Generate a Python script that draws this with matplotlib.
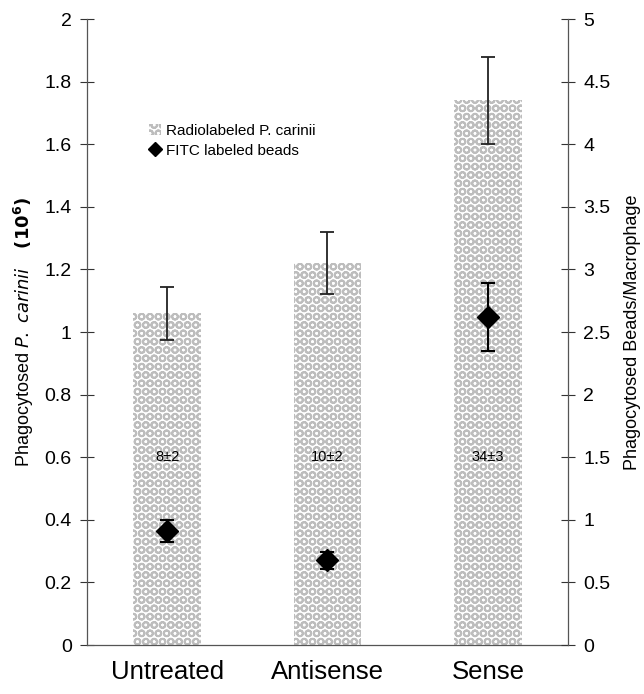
import matplotlib.pyplot as plt
from matplotlib.lines import Line2D
from matplotlib.patches import Patch

plt.rcParams["font.family"] = ["Liberation Sans", "DejaVu Sans"]
plt.rcParams["hatch.linewidth"] = 1.4

# Data
groups = ["Untreated", "Antisense", "Sense"]
carinii = [1.06, 1.22, 1.74]          # left axis, x10^6
carinii_err = [0.085, 0.10, 0.14]
beads = [0.91, 0.675, 2.62]            # right axis, beads / macrophage
beads_err = [0.09, 0.07, 0.27]
bar_notes = ["8\u00b12", "10\u00b12", "34\u00b13"]

fig = plt.figure(figsize=(6.44, 6.94), dpi=100)
ax = fig.add_axes([0.135, 0.0706, 0.747, 0.902])
ax2 = ax.twinx()

x = list(range(len(groups)))

ax.bar(x, carinii, width=0.42, facecolor="white", edgecolor="#bdbdbd",
       hatch="OO", linewidth=0, zorder=1)
ax.errorbar(x, carinii, yerr=carinii_err, fmt="none", ecolor="#222222",
            elinewidth=1.3, capsize=5, capthick=1.3, zorder=3)

for xi, note in zip(x, bar_notes):
    ax.text(xi, 0.6, note, ha="center", va="center", fontsize=10.5,
            color="black", zorder=4)

ax2.errorbar(x, beads, yerr=beads_err, fmt="D", color="black", ms=11,
             ecolor="black", elinewidth=1.5, capsize=5, capthick=1.5, zorder=5)

# Axes formatting
ax.set_xlim(-0.5, 2.5)
ax.set_ylim(0, 2)
ax2.set_ylim(0, 5)
ax.set_yticks([0, 0.2, 0.4, 0.6, 0.8, 1, 1.2, 1.4, 1.6, 1.8, 2])
ax.set_yticklabels(["0", "0.2", "0.4", "0.6", "0.8", "1", "1.2", "1.4",
                    "1.6", "1.8", "2"])
ax2.set_yticks([0, 0.5, 1, 1.5, 2, 2.5, 3, 3.5, 4, 4.5, 5])
ax2.set_yticklabels(["0", "0.5", "1", "1.5", "2", "2.5", "3", "3.5", "4",
                     "4.5", "5"])
ax.set_xticks(x)
ax.set_xticklabels(groups, fontsize=18.5)
ax.tick_params(axis="x", length=0, pad=11)
ax.tick_params(axis="y", direction="inout", length=10, width=0.8, pad=6,
               labelsize=14, colors="#333333", labelcolor="black")
ax2.tick_params(axis="y", direction="inout", length=10, width=0.8, pad=6,
                labelsize=14, colors="#333333", labelcolor="black")

for a in (ax, ax2):
    a.spines["top"].set_visible(False)
    for s in ("left", "right", "bottom"):
        a.spines[s].set_color("#555555")
        a.spines[s].set_linewidth(0.9)
ax.spines["right"].set_visible(False)
ax2.spines["left"].set_visible(False)
ax2.spines["bottom"].set_visible(False)

ax.set_ylabel("Phagocytosed $\\it{P.}$ $\\it{carinii}$    $\\mathbf{(10^{6})}$",
              fontsize=13, labelpad=6)
ax2.set_ylabel("Phagocytosed Beads/Macrophage", fontsize=13, labelpad=10)

handles = [
    Patch(facecolor="white", edgecolor="#bdbdbd", hatch="OO", linewidth=0,
          label="Radiolabeled P. carinii"),
    Line2D([], [], marker="D", color="black", linestyle="none", ms=7,
           label="FITC labeled beads"),
]
ax.legend(handles=handles, loc="upper left", bbox_to_anchor=(0.1, 0.855),
          frameon=False, fontsize=11, handlelength=0.8, handletextpad=0.3,
          labelspacing=0.4)

fig.savefig("out.png", dpi=100)
